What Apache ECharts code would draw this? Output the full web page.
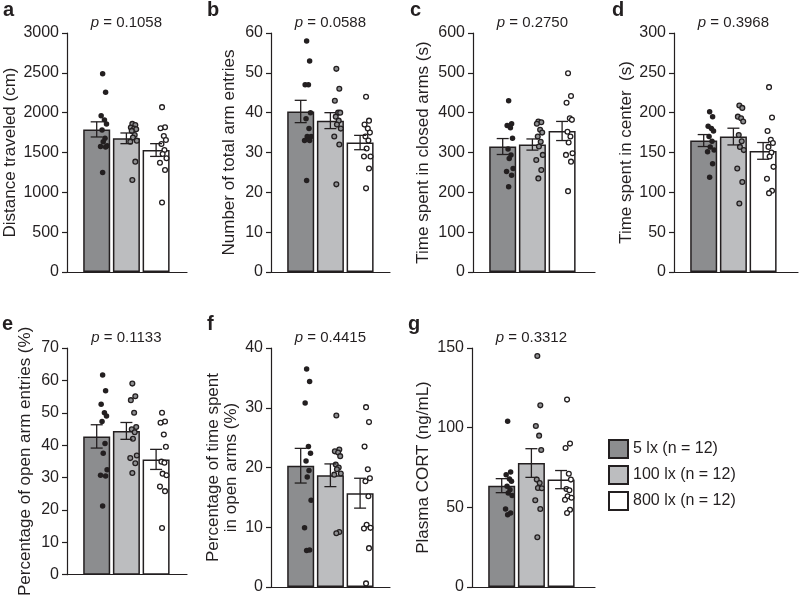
<!DOCTYPE html>
<html>
<head>
<meta charset="utf-8">
<script src="https://cdn.jsdelivr.net/npm/echarts@6/dist/echarts.min.js"></script>
<style>
  html, body { margin: 0; padding: 0; background: #fff; }
  #chart { width: 800px; height: 598px; }
</style>
</head>
<body>
<div id="chart"></div>
<script>
// groups
var GROUPS = ['5 lx (n = 12)', '100 lx (n = 12)', '800 lx (n = 12)'];

// a - distance traveled
var meansA = [1790, 1678, 1531];
var semA = [95, 67, 80];
var dotsA1 = [2488, 2257, 1960, 1909, 1859, 1783, 1678, 1636, 1586, 1574, 1570, 1250];
var dotsA2 = [1859, 1846, 1813, 1800, 1792, 1771, 1720, 1687, 1649, 1636, 1385, 1154];
var dotsA3 = [2069, 1817, 1804, 1708, 1657, 1607, 1531, 1481, 1427, 1372, 1280, 873];

// b - total arm entries
var meansB = [40.3, 38.0, 32.5];
var semB = [2.8, 2.0, 1.8];
var dotsB1 = [58, 53, 47, 47, 40, 38.5, 36, 34, 34, 33, 33, 23];
var dotsB2 = [51, 46, 43, 40, 40, 39, 38, 37, 36, 34, 32, 22];
var dotsB3 = [44, 38, 37, 36, 35, 34, 33, 31, 29, 29, 26, 21];

// c - time in closed arms
var meansC = [315, 320, 354];
var semC = [20, 14, 24];
var dotsC1 = [430, 372, 368, 362, 336, 309, 294, 285, 260, 252, 243, 214];
var dotsC2 = [378, 376, 372, 357, 350, 340, 327, 315, 294, 281, 256, 235];
var dotsC3 = [499, 442, 425, 386, 382, 352, 340, 325, 298, 294, 277, 203];

// d - time in center
var meansD = [165, 170, 152];
var semD = [7.5, 10.5, 10.5];
var dotsD1 = [201, 195, 183, 180, 177, 170, 164, 157, 153, 151, 136, 119];
var dotsD2 = [209, 206, 195, 193, 189, 172, 164, 157, 153, 130, 113, 86];
var dotsD3 = [232, 194, 177, 166, 162, 157, 150, 145, 132, 117, 102, 99];

// e - % open arm entries
var meansE = [42.7, 44.4, 35.6];
var semE = [3.6, 2.6, 3.1];
var dotsE1 = [61.7, 56.8, 52.6, 50, 49, 47.3, 40.5, 37.5, 32.4, 30.7, 30.5, 21.2];
var dotsE2 = [59, 55.1, 53.9, 50, 45.6, 44.9, 44, 42, 36.8, 36, 34.4, 31.4];
var dotsE3 = [50, 47.3, 46.9, 43.3, 39.5, 34.9, 34.6, 31.2, 30.7, 27.2, 25.8, 14.4];

// f - % time in open arms
var meansF = [20.3, 18.7, 15.7];
var semF = [2.9, 1.9, 2.5];
var dotsF1 = [36.5, 34.4, 30.8, 23.5, 22.4, 21.1, 19.5, 18.4, 14.5, 9.9, 6.2, 6.1];
var dotsF2 = [28.7, 23, 22.7, 22.5, 21.9, 20.5, 20, 19.7, 19, 18.8, 9.2, 9.0];
var dotsF3 = [30.1, 27.6, 23.5, 19.7, 18.2, 17.7, 15.2, 10.4, 9.9, 9.8, 6.5, 0.6];

// g - plasma CORT
var meansG = [63.6, 77.8, 67.4];
var semG = [4.4, 9, 5.7];
var dotsG1 = [104, 72.2, 70.5, 67.8, 66.3, 63.2, 61.1, 59, 57.5, 49, 46.4, 45.4];
var dotsG2 = [145, 114, 101, 95, 86, 67.4, 65.3, 62.1, 62, 54.4, 49, 31.2];
var dotsG3 = [117.6, 90, 87.2, 71.1, 67.4, 61.5, 60.7, 57, 56, 54.8, 48.5, 46.4];

// horizontal jitter of the dots (in bar units)
var JITTER = [0.2, 0.3, 0.15, 0.26, 0.33, 0.18, 0.28, 0.22, 0.35, 0.13, 0.3, 0.2];

var INK = '#231f20';
var FONT = "'Liberation Sans', Arial, sans-serif";
var FILLS = ['#8c8d8f', '#bcbdbf', '#ffffff'];
var DOT_FILLS = [INK, '#8f9092', '#ffffff'];
var UNIT = 29.7; // px per bar slot

var panels = [
  {key: 'a', name: 'Distance traveled (cm)', max: 3000, interval: 500, p: '0.1058',
    means: meansA, sem: semA, dots: [dotsA1, dotsA2, dotsA3],
    grid: {left: 67, top: 33, width: 120, height: 239}, nameGap: 44, lx: 3, ly: 0},
  {key: 'b', name: 'Number of total arm entries', max: 60, interval: 10, p: '0.0588',
    means: meansB, sem: semB, dots: [dotsB1, dotsB2, dotsB3],
    grid: {left: 271, top: 33, width: 119, height: 239}, nameGap: 33, lx: 207, ly: 0},
  {key: 'c', name: 'Time spent in closed arms (s)', max: 600, interval: 100, p: '0.2750',
    means: meansC, sem: semC, dots: [dotsC1, dotsC2, dotsC3],
    grid: {left: 473, top: 33, width: 122, height: 239}, nameGap: 41, lx: 410, ly: 0},
  {key: 'd', name: 'Time spent in center  (s)', max: 300, interval: 50, p: '0.3968',
    means: meansD, sem: semD, dots: [dotsD1, dotsD2, dotsD3],
    grid: {left: 674, top: 33, width: 124, height: 239}, nameGap: 39, lx: 612, ly: 0},
  {key: 'e', name: 'Percentage of open arm entries (%)', max: 70, interval: 10, p: '0.1133',
    means: meansE, sem: semE, dots: [dotsE1, dotsE2, dotsE3],
    grid: {left: 67, top: 348, width: 120, height: 239}, nameGap: 33, lx: 2, ly: 314},
  {key: 'f', name: 'Percentage of time spent\nin open arms (%)', max: 40, interval: 10, p: '0.4415',
    means: meansF, sem: semF, dots: [dotsF1, dotsF2, dotsF3],
    grid: {left: 271, top: 348, width: 119, height: 239}, nameGap: 31, lx: 207, ly: 314},
  {key: 'g', name: 'Plasma CORT (ng/mL)', max: 150, interval: 50, p: '0.3312',
    means: meansG, sem: semG, dots: [dotsG1, dotsG2, dotsG3],
    grid: {left: 472, top: 348, width: 123, height: 239}, nameGap: 40, lx: 408, ly: 314}
];

function renderErr(params, api) {
  var x = api.value(0);
  var lo = api.coord([x, api.value(1)]);
  var hi = api.coord([x, api.value(2)]);
  var w = 6;
  var st = {stroke: INK, lineWidth: 1.3};
  return {
    type: 'group',
    children: [
      {type: 'line', shape: {x1: lo[0], y1: lo[1], x2: hi[0], y2: hi[1]}, style: st},
      {type: 'line', shape: {x1: lo[0] - w, y1: lo[1], x2: lo[0] + w, y2: lo[1]}, style: st},
      {type: 'line', shape: {x1: hi[0] - w, y1: hi[1], x2: hi[0] + w, y2: hi[1]}, style: st}
    ]
  };
}

var grids = [], xAxes = [], yAxes = [], series = [], graphics = [];

panels.forEach(function (pn, i) {
  grids.push(pn.grid);
  xAxes.push({
    type: 'value', gridIndex: i, min: 0, max: pn.grid.width / UNIT,
    axisLine: {show: true, lineStyle: {color: INK, width: 1.2}},
    axisTick: {show: false}, axisLabel: {show: false}, splitLine: {show: false}
  });
  yAxes.push({
    type: 'value', gridIndex: i, min: 0, max: pn.max, interval: pn.interval,
    name: pn.name, nameLocation: 'middle', nameGap: pn.nameGap,
    nameTextStyle: {fontSize: 17, color: INK, fontFamily: FONT, lineHeight: 18},
    axisLine: {show: true, lineStyle: {color: INK, width: 1.2}},
    axisTick: {show: true, length: 5, lineStyle: {color: INK, width: 1.2}},
    axisLabel: {
      fontSize: 16, color: INK, fontFamily: FONT, margin: 8,
      formatter: function (v) { return String(v); }
    },
    splitLine: {show: false}
  });

  for (var g = 0; g < 3; g++) {
    series.push({
      name: GROUPS[g], type: 'bar', xAxisIndex: i, yAxisIndex: i,
      barWidth: 27, barGap: '-100%', silent: true, z: 2,
      itemStyle: {color: FILLS[g], borderColor: INK, borderWidth: 1.5},
      data: [[g + 1, pn.means[g]]]
    });
  }
  for (var g2 = 0; g2 < 3; g2++) {
    series.push({
      type: 'scatter', xAxisIndex: i, yAxisIndex: i, silent: true, z: 3,
      symbolSize: g2 === 0 ? 5.5 : 4.8,
      itemStyle: {color: DOT_FILLS[g2], borderColor: INK, borderWidth: g2 === 0 ? 0 : 1.3, opacity: 1},
      data: pn.dots[g2].map(function (v, j) { return [g2 + 1 + JITTER[j], v]; })
    });
  }
  series.push({
    type: 'custom', xAxisIndex: i, yAxisIndex: i, silent: true, z: 4,
    renderItem: renderErr,
    encode: {x: 0, y: [1, 2]},
    data: pn.means.map(function (m, g) { return [g + 1, m - pn.sem[g], m + pn.sem[g]]; })
  });

  // panel letter
  graphics.push({
    type: 'text', left: pn.lx, top: pn.ly,
    style: {text: pn.key, font: 'bold 20px ' + FONT, fill: INK}
  });
  // p value, centred over the middle bar
  graphics.push({
    type: 'text',
    x: pn.grid.left + 2 * UNIT, y: pn.grid.top - 10,
    style: {
      text: '{i|p} = ' + pn.p,
      rich: {i: {fontStyle: 'italic', fontSize: 15, fontFamily: FONT, fill: INK}},
      fontSize: 15, fontFamily: FONT, fill: INK,
      align: 'center', verticalAlign: 'middle'
    }
  });
});

var chart = echarts.init(document.getElementById('chart'));
chart.setOption({
  animation: false,
  backgroundColor: '#ffffff',
  grid: grids,
  xAxis: xAxes,
  yAxis: yAxes,
  legend: {
    data: GROUPS, orient: 'vertical', left: 603, top: 434,
    itemWidth: 19, itemHeight: 18, itemGap: 6, selectedMode: false,
    icon: 'rect',
    textStyle: {fontSize: 16, color: INK, fontFamily: FONT}
  },
  graphic: graphics,
  series: series
});
</script>
</body>
</html>
